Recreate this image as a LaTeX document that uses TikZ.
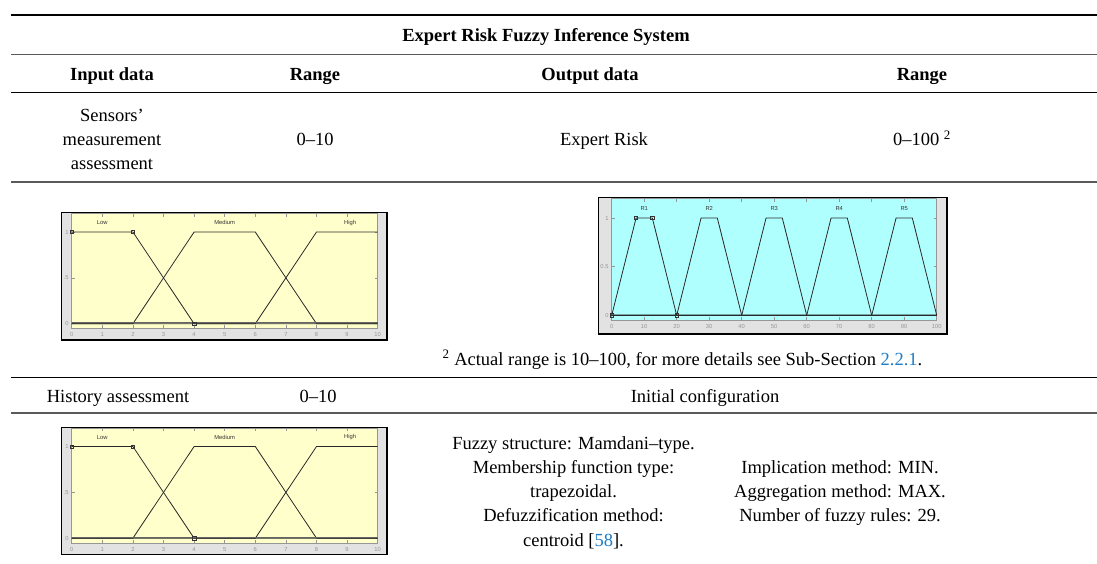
\documentclass[tikz,border=0pt]{standalone}
\usepackage{fontspec}
\setmainfont{Liberation Serif}
\setsansfont{Liberation Sans}
\definecolor{linkblue}{RGB}{30,125,200}
\definecolor{plotyellow}{RGB}{255,255,204}
\definecolor{plotcyan}{RGB}{176,255,255}
\definecolor{framegray}{RGB}{226,226,226}
\definecolor{axisgray}{RGB}{150,150,150}
\definecolor{mfcol}{RGB}{40,40,40}
\definecolor{rulegray}{RGB}{90,90,90}
\tikzset{
  txt/.style={font=\fontsize{18.5}{24.5}\selectfont, inner sep=0pt, anchor=base},
  hdr/.style={txt, font=\fontsize{18.5}{24.5}\selectfont\bfseries},
  ticklab/.style={font=\sffamily\fontsize{5.8}{6}\selectfont, text=axisgray, inner sep=0pt},
  mflab/.style={font=\sffamily\fontsize{5.8}{6}\selectfont, text=black!80, inner sep=0pt},
  mfline/.style={draw=mfcol, line width=0.8pt, line join=round},
  plotframe/.style={draw=black, line width=1.1pt, fill=framegray},
  axbox/.style={draw=axisgray, line width=0.5pt},
  tick/.style={draw=axisgray, line width=0.5pt},
  marker/.style={draw=black!80, line width=0.6pt},
}
\newcommand{\inputplot}[2]{%
  \draw[plotframe] (61.7,212.7+#1) rectangle (387,340+#1);
  \begin{scope}[shift={(71.7,323.7+#1)}, x=30.6pt, y=91.7pt]
    \fill[plotyellow] (0,-0.05) rectangle (10,1.2);
    \draw[axbox] (0,-0.05) rectangle (10,1.2);
    \foreach \i in {0,...,10} {
      \draw[tick] (\i,-0.05) -- ++(0pt,3pt);
      \draw[tick] (\i,1.2) -- ++(0pt,-3pt);
      \node[ticklab] (#2x\i) at ([yshift=-6.5pt]\i,-0.05) {\i};
    }
    \foreach \v in {0,0.5,1} {
      \draw[tick] (0,\v) -- ++(3pt,0pt);
      \draw[tick] (10,\v) -- ++(-3pt,0pt);
    }
    \node[ticklab, anchor=east] (#2y0) at ([xshift=-3pt]0,0) {0};
    \node[ticklab, anchor=east] (#2y5) at ([xshift=-3pt]0,0.5) {.5};
    \node[ticklab, anchor=east] (#2y1) at ([xshift=-3pt]0,1) {1};
    \draw[mfline] (0,0) -- (6,0) -- (8,1) -- (10,1);
    \draw[mfline] (0,0) -- (2,0) -- (4,1) -- (6,1) -- (8,0) -- (10,0);
    \draw[mfline] (0,1) -- (2,1) -- (4,0) -- (10,0);
    \draw[draw=black!60, line width=0.5pt] (0,0.012) -- (10,0.012);
    \node[mflab] (#2low) at (1,1.1) {Low};
    \node[mflab] (#2med) at (5,1.1) {Medium};
    \node[mflab] (#2high) at (9.1,1.1) {High};
    \foreach \p in {(0,1),(2,1),(4,0)} {
      \draw[marker] \p ++(-1.7pt,-1.7pt) rectangle ++(3.4pt,3.4pt);
    }
  \end{scope}
}
\begin{document}
\begin{tikzpicture}[x=1pt,y=-1pt]
\useasboundingbox (0,0) rectangle (1097,563);
\fill[white] (0,0) rectangle (1097,563);

% rules
\draw[line width=1.5pt] (11,15) -- (1097,15);
\draw[rulegray, line width=0.8pt] (11,54) -- (1097,54);
\draw[black, line width=0.9pt] (11,92) -- (1097,92);
\draw[rulegray, line width=1.3pt] (11,182) -- (1097,182);
\draw[black, line width=0.9pt] (11,377) -- (1097,377);
\draw[rulegray, line width=1.1pt] (11,413) -- (1097,413);

% title and header
\node[hdr] (title) at (546,41.7) {Expert Risk Fuzzy Inference System};
\node[hdr] (hin) at (112,80) {Input data};
\node[hdr] (hr1) at (315,80) {Range};
\node[hdr] (hout) at (590,80) {Output data};
\node[hdr] (hr2) at (922,80) {Range};

% row 1
\node[txt] (s1) at (112,121.7) {Sensors'};
\node[txt] (s2) at (112,145.4) {measurement};
\node[txt] (s3) at (112,169.6) {assessment};
\node[txt] (r1) at (315,145.4) {0--10};
\node[txt] (er) at (604,145.4) {Expert Risk};
\node[txt] (r2) at (922,145.4) {0--100 \textsuperscript{2}};

% plots
\inputplot{0}{pa}
\inputplot{214.5}{pb}

% output plot
\draw[plotframe] (598.7,197.7) rectangle (947,334);
\begin{scope}[shift={(611.7,315.3)}, x=3.25pt, y=97.3pt]
  \fill[plotcyan] (0,-0.05) rectangle (100,1.2);
  \draw[axbox] (0,-0.05) rectangle (100,1.2);
  \foreach \i in {0,10,...,100} {
    \draw[tick] (\i,-0.05) -- ++(0pt,3pt);
    \draw[tick] (\i,1.2) -- ++(0pt,-3pt);
    \node[ticklab] (ox\i) at ([yshift=-6.5pt]\i,-0.05) {\i};
  }
  \foreach \v in {0,0.5,1} {
    \draw[tick] (0,\v) -- ++(3pt,0pt);
    \draw[tick] (100,\v) -- ++(-3pt,0pt);
  }
  \node[ticklab, anchor=east] (oy0) at ([xshift=-3pt]0,0) {0};
  \node[ticklab, anchor=east] (oy5) at ([xshift=-3pt]0,0.5) {0.5};
  \node[ticklab, anchor=east] (oy1) at ([xshift=-3pt]0,1) {1};
  \foreach \k [evaluate=\k as \a using 20*\k, evaluate=\k as \b using 20*\k+7.5, evaluate=\k as \c using 20*\k+12.5, evaluate=\k as \d using 20*\k+20] in {0,...,4} {
    \draw[mfline] (0,0) -- (\a,0) -- (\b,1) -- (\c,1) -- (\d,0) -- (100,0);
  }
  \foreach \k in {1,...,5} {
    \node[mflab] (R\k) at (20*\k-10,1.1) {R\k};
  }
  \foreach \p in {(0,0),(7.5,1),(12.5,1),(20,0)} {
    \draw[marker] \p ++(-1.7pt,-1.7pt) rectangle ++(3.4pt,3.4pt);
  }
\end{scope}

% footnote
\node[txt] (fn) at (682.5,365) {\textsuperscript{2} Actual range is 10--100, for more details see Sub-Section \textcolor{linkblue}{2.2.1}.};

% row 2
\node[txt] (ha) at (118,402.5) {History assessment};
\node[txt] (r3) at (318,402.5) {0--10};
\node[txt] (ic) at (705,402.5) {Initial configuration};

% config text
\node[txt] (c1) at (573.5,449) {Fuzzy structure: Mamdani--type.};
\node[txt] (c2) at (573.5,473.3) {Membership function type:};
\node[txt] (c3) at (573.5,497.5) {trapezoidal.};
\node[txt] (c4) at (573.5,521.7) {Defuzzification method:};
\node[txt] (c5) at (573.5,546.9) {centroid [\textcolor{linkblue}{58}].};
\node[txt] (d1) at (840,473.3) {Implication method: MIN.};
\node[txt] (d2) at (840,497.5) {Aggregation method: MAX.};
\node[txt] (d3) at (840,521.7) {Number of fuzzy rules: 29.};
\end{tikzpicture}
\end{document}
